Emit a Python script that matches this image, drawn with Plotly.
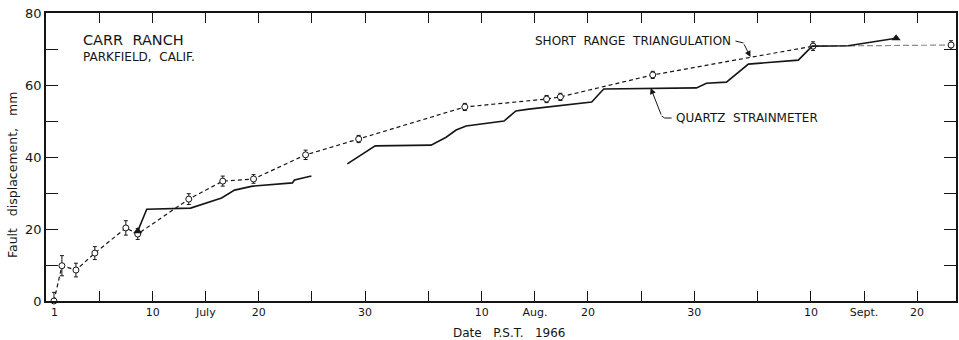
import pandas as pd
import plotly.graph_objects as go

# ---- data (days after 1966-07-01 00:00, displacement in mm) ----
tri_day = [-0.3, 0.45, 1.77, 3.55, 6.47, 7.59, 12.4, 15.6, 18.5, 23.4, 28.4,
           38.4, 46.1, 47.4, 56.1, 71.2, 84.2]
tri_val = [0.0, 9.8, 8.6, 13.3, 20.3, 18.6, 28.3, 33.3, 33.9, 40.6, 45.0,
           53.9, 56.1, 56.7, 62.8, 70.8, 71.1]
tri_err = [2.4, 2.8, 1.9, 1.8, 2.0, 1.5, 1.5, 1.4, 1.2, 1.3, 1.0,
           1.0, 1.0, 1.0, 1.0, 1.2, 1.2]

qs_a_day = [7.59, 8.44, 12.57, 15.49, 16.71, 18.40, 22.16, 22.35, 23.95]
qs_a_val = [19.4, 25.5, 25.8, 28.6, 30.8, 31.9, 32.8, 33.6, 34.7]
qs_b_day = [27.33, 29.96, 35.22, 36.64, 37.58, 38.52, 42.09, 43.21, 44.43,
            50.35, 51.48, 60.22, 61.16, 63.04, 65.11, 69.81, 71.12, 74.51, 79.02]
qs_b_val = [38.1, 43.1, 43.3, 45.5, 47.5, 48.6, 50.0, 52.8, 53.3,
            55.3, 58.9, 59.2, 60.5, 60.8, 65.8, 66.9, 70.8, 70.9, 73.0]

tick_dates = ["1966-07-05", "1966-07-10", "1966-07-15", "1966-07-20", "1966-07-25",
              "1966-07-30", "1966-08-05", "1966-08-10", "1966-08-15", "1966-08-20",
              "1966-08-25", "1966-08-30", "1966-09-05", "1966-09-10", "1966-09-15",
              "1966-09-20"]
tick_labels = ["", "10", "July", "20", "", "30", "", "10", "Aug.", "20",
               "", "30", "", "10", "Sept.", "20"]
y_ticks = [0, 10, 20, 30, 40, 50, 60, 70, 80]
y_labels = ["0", "", "20", "", "40", "", "60", "", "80"]

BASE = pd.Timestamp("1966-07-01")


def to_dates(days):
    return [BASE + pd.to_timedelta(d, unit="D") for d in days]


W, H = 959, 340
ML, MR, MT, MB = 46, 1, 13, 39
PW, PH = W - ML - MR, H - MT - MB


def px(x):
    return (x - ML) / PW


def py(y):
    return (H - MB - y) / PH


INK = "#151515"
FONT = "DejaVu Sans"

fig = go.Figure()

# triangulation dashed (main part)
fig.add_trace(go.Scatter(
    x=to_dates(tri_day[:-1]), y=tri_val[:-1], mode="lines+markers",
    line=dict(color=INK, width=1.2, dash="4px,3px"),
    marker=dict(symbol="circle", size=6, color="white", line=dict(color=INK, width=1)),
    error_y=dict(type="data", array=tri_err[:-1], color=INK, thickness=1, width=2),
    cliponaxis=False, showlegend=False))
# last, lighter segment
fig.add_trace(go.Scatter(
    x=to_dates(tri_day[-2:]), y=tri_val[-2:], mode="lines",
    line=dict(color="#8a8a8a", width=1.2, dash="6px,3px"),
    showlegend=False))
fig.add_trace(go.Scatter(
    x=to_dates(tri_day[-1:]), y=tri_val[-1:], mode="markers",
    marker=dict(symbol="circle", size=6, color="white", line=dict(color=INK, width=1)),
    error_y=dict(type="data", array=tri_err[-1:], color=INK, thickness=1, width=2),
    cliponaxis=False, showlegend=False))

# quartz strainmeter solid
for dd, vv in ((qs_a_day, qs_a_val), (qs_b_day, qs_b_val)):
    fig.add_trace(go.Scatter(
        x=to_dates(dd), y=vv, mode="lines",
        line=dict(color=INK, width=1.6), showlegend=False))
fig.add_trace(go.Scatter(
    x=to_dates([qs_a_day[0], qs_b_day[-1]]), y=[qs_a_val[0], qs_b_val[-1]],
    mode="markers", marker=dict(symbol="triangle-up", size=8, color=INK),
    cliponaxis=False, showlegend=False))

x_lo = BASE + pd.to_timedelta(-1.05, unit="D")
x_hi = BASE + pd.to_timedelta(-1.05 + PW / 10.64, unit="D")

fig.update_xaxes(
    type="date", range=[x_lo, x_hi],
    tickvals=pd.to_datetime(tick_dates), ticktext=tick_labels,
    ticks="inside", ticklen=10, tickwidth=1.2, tickcolor=INK,
    showline=True, linecolor=INK, linewidth=1.5, mirror="ticks",
    showgrid=False, zeroline=False,
    tickfont=dict(family=FONT, size=11, color=INK))
fig.update_yaxes(
    range=[0, 80], tickvals=y_ticks, ticktext=y_labels,
    ticks="inside", ticklen=12, tickwidth=1.2, tickcolor=INK,
    showline=True, linecolor=INK, linewidth=1.5, mirror="ticks",
    showgrid=False, zeroline=False,
    tickfont=dict(family=FONT, size=13, color=INK))


def label(x, y, text, size, **kw):
    d = dict(x=px(x), y=py(y), xref="paper", yref="paper", xanchor="left",
             yanchor="middle", text=text, showarrow=False,
             font=dict(family=FONT, size=size, color=INK))
    d.update(kw)
    return d


ann = []
# "1" date label (no tick)
ann.append(dict(x=BASE, y=0, xref="x", yref="y", yanchor="top", yshift=-3, xshift=-3,
                text="1", showarrow=False, font=dict(family=FONT, size=11, color=INK)))
ann.append(label(81, 40, "CARR  RANCH", 14.5))
ann.append(label(81, 57, "PARKFIELD,  CALIF.", 12))
ann.append(label(534, 41, "SHORT  RANGE  TRIANGULATION", 12))
ann.append(label(675, 118, "QUARTZ  STRAINMETER", 12))
# leader arrows
ann.append(dict(x=px(752), y=py(57), xref="paper", yref="paper", text="",
                showarrow=True, arrowhead=2, arrowsize=1.2, arrowwidth=1, arrowcolor=INK,
                ax=745 - 752, ay=43 - 57, axref="pixel", ayref="pixel"))
ann.append(dict(x=px(652), y=py(88), xref="paper", yref="paper", text="",
                showarrow=True, arrowhead=2, arrowsize=1.2, arrowwidth=1, arrowcolor=INK,
                ax=663 - 652, ay=116 - 88, axref="pixel", ayref="pixel"))
# axis titles
ann.append(label(12, 175, "Fault   displacement,   mm", 12.5, xanchor="center", textangle=-90))
ann.append(label(510, 333, "Date   P.S.T.   1966", 12, xanchor="center"))

shapes = [
    dict(type="line", xref="paper", yref="paper", x0=px(737), y0=py(41),
         x1=px(745), y1=py(43), line=dict(color=INK, width=1)),
    dict(type="line", xref="paper", yref="paper", x0=px(663), y0=py(116),
         x1=px(666), y1=py(118), line=dict(color=INK, width=1)),
    dict(type="line", xref="paper", yref="paper", x0=px(666), y0=py(118),
         x1=px(673), y1=py(118), line=dict(color=INK, width=1)),
]

fig.update_layout(
    width=W, height=H, margin=dict(l=ML, r=MR, t=MT, b=MB),
    paper_bgcolor="white", plot_bgcolor="white",
    annotations=ann, shapes=shapes,
    font=dict(family=FONT, color=INK))

fig.write_html("out.html")
